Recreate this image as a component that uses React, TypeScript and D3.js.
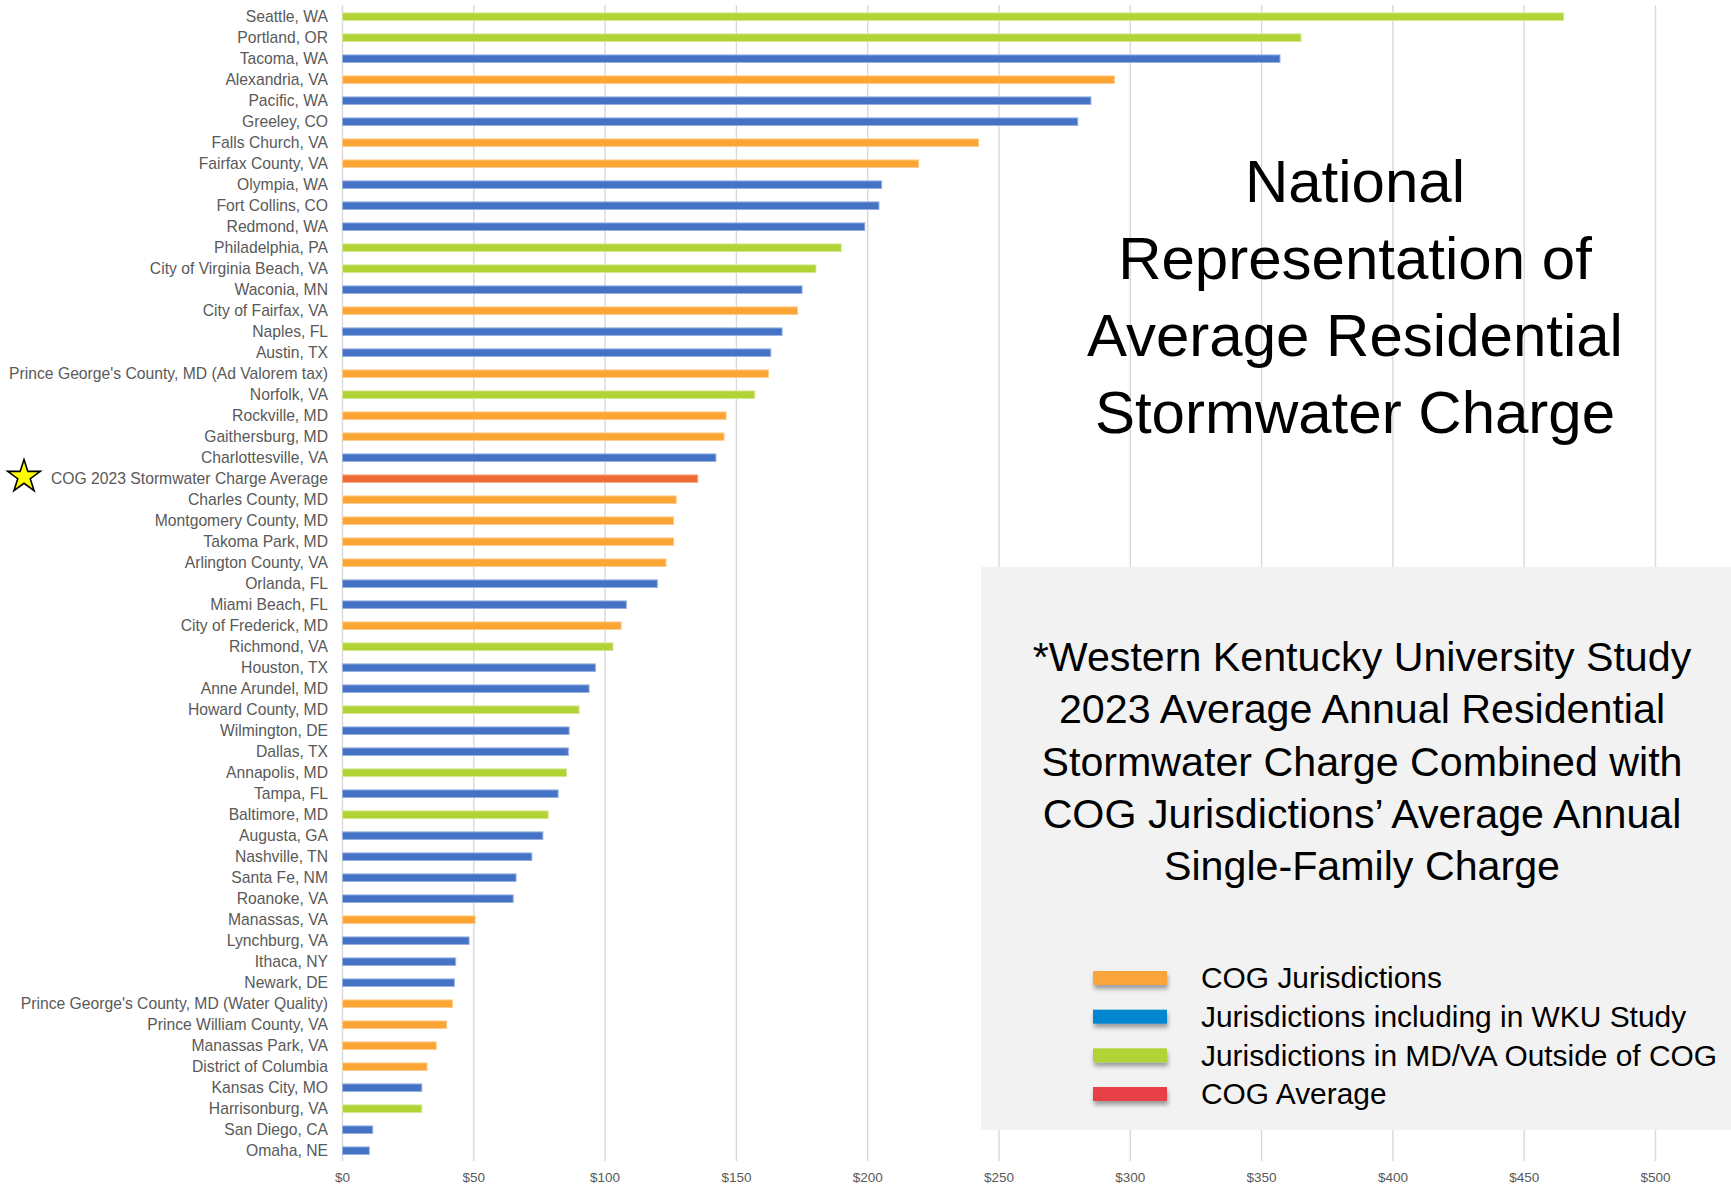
import * as d3 from "d3";

const categories = [
  "Seattle, WA", "Portland, OR", "Tacoma, WA", "Alexandria, VA", "Pacific, WA", "Greeley, CO",
  "Falls Church, VA", "Fairfax County, VA", "Olympia, WA", "Fort Collins, CO", "Redmond, WA",
  "Philadelphia, PA", "City of Virginia Beach, VA", "Waconia, MN", "City of Fairfax, VA", "Naples, FL",
  "Austin, TX", "Prince George's County, MD (Ad Valorem tax)", "Norfolk, VA", "Rockville, MD",
  "Gaithersburg, MD", "Charlottesville, VA", "COG 2023 Stormwater Charge Average", "Charles County, MD",
  "Montgomery County, MD", "Takoma Park, MD", "Arlington County, VA", "Orlanda, FL", "Miami Beach, FL",
  "City of Frederick, MD", "Richmond, VA", "Houston, TX", "Anne Arundel, MD", "Howard County, MD",
  "Wilmington, DE", "Dallas, TX", "Annapolis, MD", "Tampa, FL", "Baltimore, MD", "Augusta, GA",
  "Nashville, TN", "Santa Fe, NM", "Roanoke, VA", "Manassas, VA", "Lynchburg, VA", "Ithaca, NY",
  "Newark, DE", "Prince George's County, MD (Water Quality)", "Prince William County, VA",
  "Manassas Park, VA", "District of Columbia", "Kansas City, MO", "Harrisonburg, VA", "San Diego, CA",
  "Omaha, NE",
];

const charges = [
  465, 365, 357, 294, 285, 280,
  242.2, 219.4, 205.3, 204.3, 198.9,
  189.9, 180.3, 175.0, 173.3, 167.4,
  163.1, 162.2, 157.0, 146.1,
  145.3, 142.2, 135.3, 127.1,
  126.1, 126.1, 123.2, 119.9, 108.1,
  106.1, 103.0, 96.3, 93.9, 90.1,
  86.3, 86.0, 85.3, 82.1, 78.3, 76.3,
  72.1, 66.1, 65.0, 50.5, 48.2, 43.1,
  42.6, 41.9, 39.7,
  35.7, 32.2, 30.2, 30.2, 11.5,
  10.2,
];

// c = COG jurisdiction, w = WKU study, m = MD/VA outside COG, a = COG average
const groups = [
  "m", "m", "w", "c", "w", "w",
  "c", "c", "w", "w", "w",
  "m", "m", "w", "c", "w",
  "w", "c", "m", "c",
  "c", "w", "a", "c",
  "c", "c", "c", "w", "w",
  "c", "m", "w", "w", "m",
  "w", "w", "m", "w", "m", "w",
  "w", "w", "w", "c", "w", "w",
  "w", "c", "c",
  "c", "c", "w", "m", "w",
  "w",
];

const ticks = [0, 50, 100, 150, 200, 250, 300, 350, 400, 450, 500];

const titleLines = ["National", "Representation of", "Average Residential", "Stormwater Charge"];

const noteLines = [
  "*Western Kentucky University Study",
  "2023 Average Annual Residential",
  "Stormwater Charge Combined with",
  "COG Jurisdictions\u2019 Average Annual",
  "Single-Family Charge",
];

const legendLabels = [
  "COG Jurisdictions",
  "Jurisdictions including in WKU Study",
  "Jurisdictions in MD/VA Outside of COG",
  "COG Average",
];

const barColor: Record<string, string> = { c: "#FBA535", w: "#4472C4", m: "#B1D335", a: "#EE6A31" };
const legendColors = ["#FBA43A", "#0087CF", "#B1D335", "#E8414A"];

const W = 1731;
const H = 1187;
const FONT = "'Liberation Sans', Arial, sans-serif";

export default function App() {
  const x = d3.scaleLinear().domain([0, 500]).range([342.5, 1655.5]);
  const y = d3.scaleBand<string>()
    .domain(categories)
    .range([6.2, 6.2 + categories.length * 21])
    .paddingInner(0.64)
    .paddingOuter(0.32);

  const gridTop = 5;
  const gridBottom = 1161;

  const legendY = d3.scaleLinear().domain([0, legendLabels.length - 1]).range([978, 1094]);

  const star = d3.symbol().type(d3.symbolStar).size(330)();
  const lighter = (c: string) => d3.interpolateRgb(c, "#ffffff")(0.45);

  return (
    <div style={{ position: "absolute", left: 0, top: 0, background: "#fff" }}>
      <svg width={W} height={H} viewBox={`0 0 ${W} ${H}`} style={{ display: "block", fontFamily: FONT }}>
        <defs>
          <filter id="swatchShadow" x="-20%" y="-60%" width="140%" height="260%">
            <feDropShadow dx="1" dy="4" stdDeviation="2" floodColor="#000" floodOpacity="0.35" />
          </filter>
        </defs>

        {/* grid */}
        {ticks.map(t => (
          <line key={t} x1={x(t)} x2={x(t)} y1={gridTop} y2={gridBottom}
            stroke="#d9d9d9" strokeWidth={1.4} />
        ))}

        {/* tick labels */}
        {ticks.map(t => (
          <text key={t} x={x(t)} y={1182} textAnchor="middle" fontSize={13.5} fill="#595959">
            {`$${t}`}
          </text>
        ))}

        {/* bars */}
        {categories.map((c, i) => (
          <rect key={c} x={x(0)} y={y(c)!} width={x(charges[i]) - x(0)} height={y.bandwidth()}
            fill={barColor[groups[i]]} stroke={lighter(barColor[groups[i]])} strokeWidth={1} />
        ))}

        {/* category labels */}
        {categories.map(c => (
          <text key={c} x={328} y={y(c)! + y.bandwidth() / 2} dy="0.36em" textAnchor="end"
            fontSize={15.7} fill="#595959">
            {c}
          </text>
        ))}

        {/* star marking COG average */}
        <path d={star!} transform={`translate(24,${y(categories[22])! + y.bandwidth() / 2 - 2})`}
          fill="#FFFF00" stroke="#000" strokeWidth={1.6} strokeLinejoin="miter" />

        {/* title */}
        {titleLines.map((t, i) => (
          <text key={t} x={1355} y={202 + i * 77} textAnchor="middle" fontSize={60} fill="#000">
            {t}
          </text>
        ))}

        {/* note box */}
        <rect x={981} y={567} width={W - 981} height={563} fill="#f2f2f2" />
        {noteLines.map((t, i) => (
          <text key={t} x={1362} y={671 + i * 52.3} textAnchor="middle" fontSize={41.2} fill="#000">
            {t}
          </text>
        ))}

        {/* legend */}
        {legendLabels.map((t, i) => (
          <g key={t} transform={`translate(0,${legendY(i)})`}>
            <rect x={1093} y={-7} width={74} height={14} fill={legendColors[i]} filter="url(#swatchShadow)" />
            <text x={1201} y={0} dy="0.35em" fontSize={29.9} fill="#000">{t}</text>
          </g>
        ))}
      </svg>
    </div>
  );
}
